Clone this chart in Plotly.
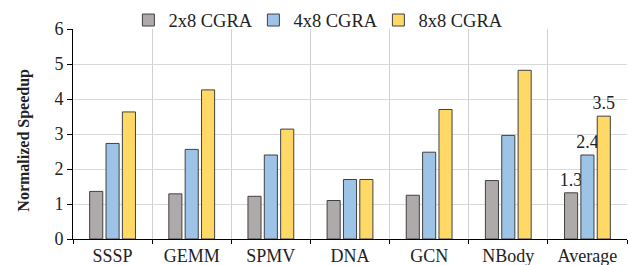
import plotly.graph_objects as go

categories = ["SSSP", "GEMM", "SPMV", "DNA", "GCN", "NBody", "Average"]
series_names = ["2x8 CGRA", "4x8 CGRA", "8x8 CGRA"]
vals_2x8 = [1.36, 1.29, 1.22, 1.10, 1.25, 1.67, 1.32]
vals_4x8 = [2.73, 2.56, 2.40, 1.70, 2.48, 2.96, 2.40]
vals_8x8 = [3.63, 4.26, 3.14, 1.70, 3.70, 4.82, 3.51]
avg_labels = ["1.3", "2.4", "3.5"]
y_ticks = [0, 1, 2, 3, 4, 5, 6]

colors = ["#AEAAAA", "#9DC3E6", "#FFD966"]
FONT = "Liberation Serif"

fig = go.Figure()
for i, (name, vals) in enumerate(zip(series_names, [vals_2x8, vals_4x8, vals_8x8])):
    texts = [""] * (len(categories) - 1) + [avg_labels[i]]
    fig.add_trace(go.Bar(
        x=categories, y=vals, name=name,
        marker=dict(color=colors[i], line=dict(color="#404040", width=1)),
        text=texts, textposition="outside", constraintext="none",
        cliponaxis=False,
        textfont=dict(family=FONT, size=18, color="#222"),
    ))

fig.update_layout(
    width=628, height=265,
    margin=dict(l=73, r=1, t=29, b=26, autoexpand=False),
    paper_bgcolor="white", plot_bgcolor="white",
    barmode="group", bargap=0.38, bargroupgap=0.2,
    font=dict(family=FONT, size=16, color="#222"),
    legend=dict(orientation="h", x=0.1, xanchor="left", y=0.95, yanchor="bottom",
                font=dict(family=FONT, size=18.5, color="#222"),
                entrywidth=80, entrywidthmode="pixels",
                itemwidth=30, traceorder="normal", tracegroupgap=0,
                bgcolor="rgba(0,0,0,0)"),
    showlegend=True,
    annotations=[dict(text="<b>Normalized Speedup</b>", textangle=-90,
                      xref="paper", yref="paper", x=-0.090, y=0.469,
                      xanchor="center", yanchor="middle", showarrow=False,
                      font=dict(family=FONT, size=16, color="#222"))],
)
fig.update_xaxes(
    type="category", tickson="boundaries", showgrid=True, gridcolor="#D0D0D0",
    showline=True, linecolor="black", linewidth=1, automargin=False,
    ticks="outside", ticklen=4, tickcolor="black",
    tickfont=dict(family=FONT, size=18, color="#222"),
)
fig.update_yaxes(
    range=[0, 6], tickvals=y_ticks, showgrid=True, gridcolor="#D9D9D9",
    showline=True, linecolor="black", linewidth=1, automargin=False,
    ticks="outside", ticklen=5, tickcolor="black",
    tickfont=dict(family=FONT, size=18, color="#222"),
    zeroline=False,
)

fig.write_html("out.html", config={"displayModeBar": False},
               post_script="document.body.style.margin='0';document.body.style.overflow='hidden';")
